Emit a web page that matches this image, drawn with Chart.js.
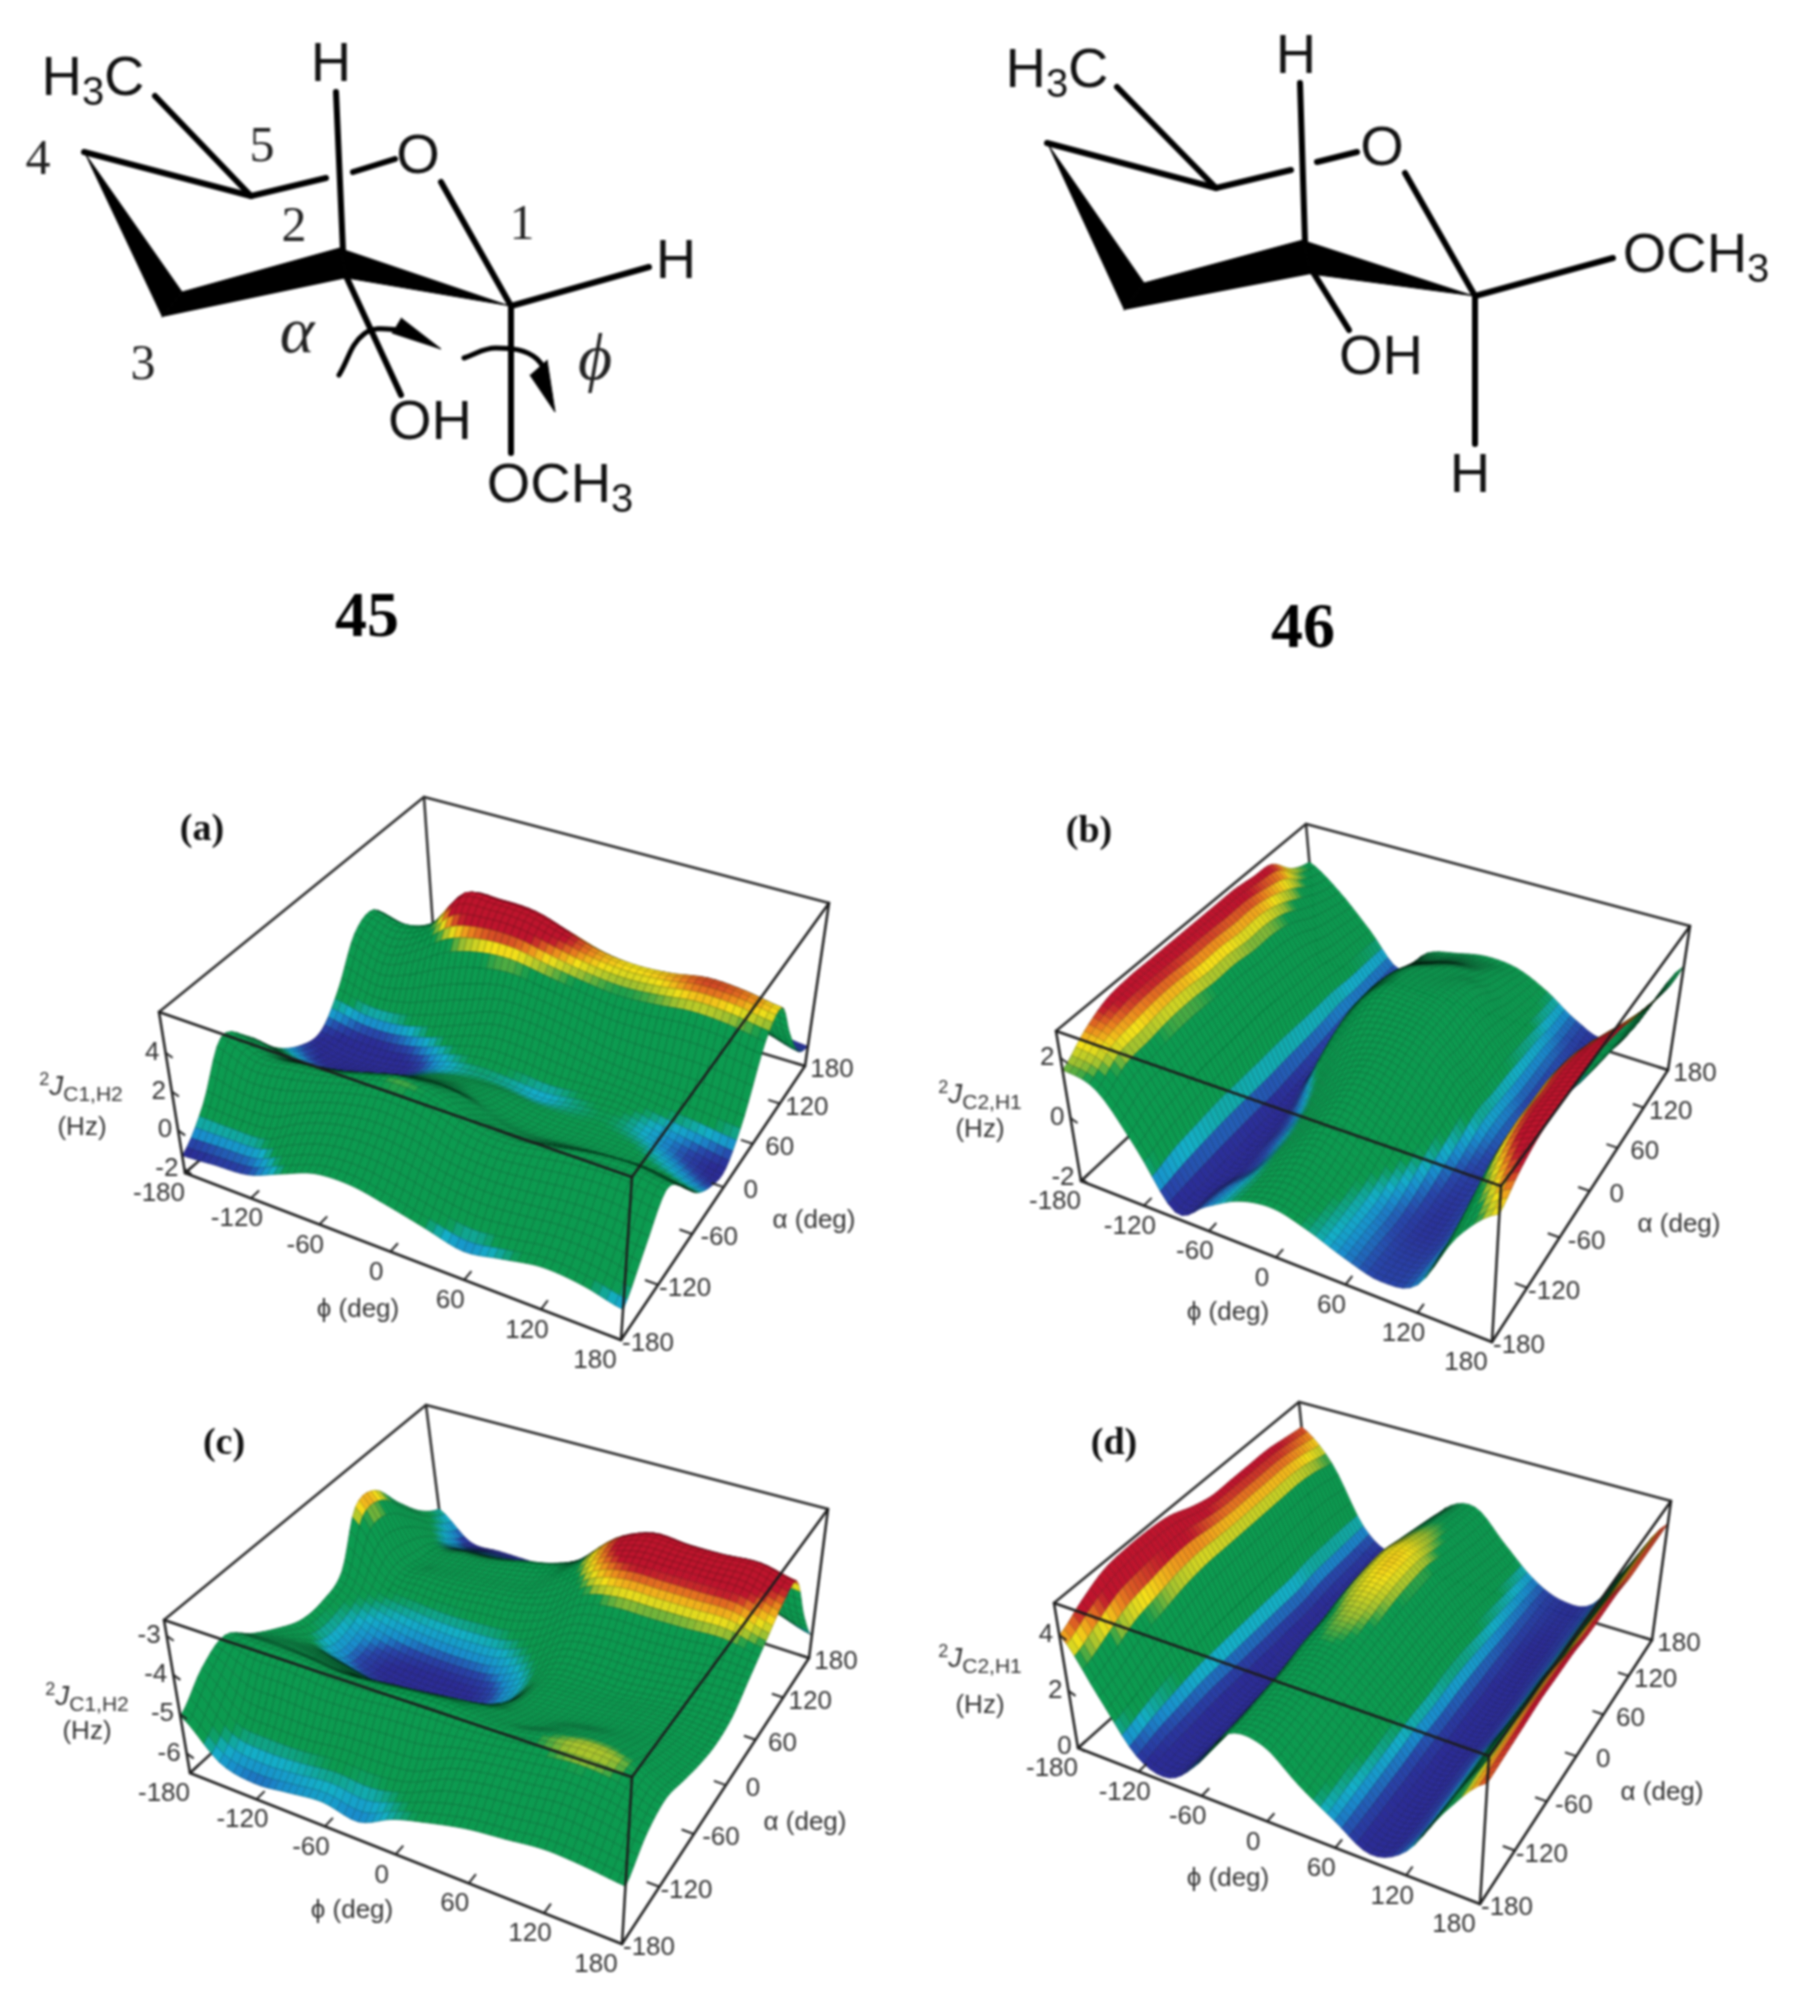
<!DOCTYPE html>
<html>
<head>
<meta charset="utf-8">
<title>2J coupling surfaces</title>
<script src="https://cdn.jsdelivr.net/npm/chart.js@4/dist/chart.umd.min.js"></script>
<style>
body { margin: 0; background: #fff; }
canvas { display: block; filter: blur(1.1px); }
</style>
</head>
<body>
<canvas id="c" width="1797" height="2000"></canvas>
<script>
/* axis ticks */
const phiTicks = [-180, -120, -60, 0, 60, 120, 180];
const alphaTicks = [-180, -120, -60, 0, 60, 120, 180];
const zTicksA = [-2, 0, 2, 4];
const zTicksB = [-2, 0, 2];
const zTicksC = [-6, -5, -4, -3];
const zTicksD = [0, 2, 4];

/* surface heights in Hz, one row per alpha (-180..180 step 30), one column per phi (-180..180 step 30) */
const surfA = [
  [-1.3,-1.15,-1.0,-0.3,0.4,0.5,0.15,-0.3,-0.75,-0.4,-0.05,-0.2,-0.65],
  [0.2,0.1,0.2,1.1,1.7,1.9,1.7,1.2,1.0,1.1,1.3,1.3,1.0],
  [2.6,1.9,2.1,2.4,2.9,3.3,3.1,2.4,2.2,2.5,2.8,2.9,2.6],
  [1.6,1.1,1.2,1.5,2.0,2.4,2.3,1.5,1.2,1.4,1.7,1.8,1.5],
  [0,-0.4,-0.2,0.2,0.7,1,0.9,0.4,0.2,0.3,0.3,0.2,-0.1],
  [-0.9,-1.3,-1.2,-0.9,-0.2,0.1,0.2,0,-0.1,-0.1,-0.2,-0.6,-1.0],
  [-1.1,-1.4,-1.4,-1.1,-0.5,-0.2,-0.3,-0.45,-0.2,-0.1,-0.5,-0.9,-1.25],
  [0.2,-0.2,-0.1,0.4,1,1.6,1.6,1.3,0.9,0.7,0.6,0.5,0.3],
  [2.2,1.6,2.3,3.4,3.9,3.95,3.6,3.3,3.1,3.2,3.4,3.3,3.0],
  [2.6,2.3,2.9,4.9,5.0,4.9,4.4,3.9,3.7,3.8,4.1,4.0,3.7],
  [1.0,0.4,1.0,2.6,3.3,3.3,2.6,1.9,1.5,1.8,2.0,1.8,1.4],
  [-0.2,-0.6,-0.2,0.6,1.1,1.0,0.7,0.4,0.1,0.2,0.3,0,-0.5],
  [-0.6,-0.9,-0.8,-0.4,-0.2,-0.3,-0.4,-0.6,-0.7,-0.7,-0.8,-1,-1.2]
];
const surfB = [
  [1.6,1.3,-0.2,-1.9,-1.3,-0.7,-0.5,-0.8,-1.25,-1.55,-1.2,0.8,2.0],
  [2.2,1.8,0.1,-1.9,-1.4,-0.7,-0.3,-0.7,-1.2,-1.6,-1.2,1.3,2.5],
  [2.6,1.9,0.2,-1.9,-1.6,-0.6,0,-0.5,-1.2,-1.7,-1.2,1.8,2.8],
  [2.7,2.0,0.3,-1.9,-1.5,-0.5,0.3,-0.1,-0.9,-1.7,-1.1,2.0,2.9],
  [2.7,2.0,0.3,-1.9,-1.4,-0.2,0.6,0.3,-0.5,-1.6,-1.1,2.0,2.9],
  [2.7,1.9,0.3,-1.9,-1.0,0.3,0.9,0.7,-0.2,-1.4,-1.2,2.0,2.9],
  [2.7,1.9,0.3,-1.8,-0.3,0.9,1.2,1,0.1,-1.2,-1.3,1.8,2.8],
  [2.7,1.8,0.2,-1.7,0.1,1.3,1.4,1.1,-0.1,-1.2,-1.4,1.4,2.6],
  [2.7,1.8,0.1,-1.6,0.2,1.2,1.3,1.1,0,-1.3,-1.5,0.8,2.3],
  [2.6,1.6,0,-1.5,0.1,1.0,1.0,0.9,-0.2,-1.3,-1.6,0,2.0],
  [2.5,1.2,-0.2,-1.5,-0.1,0.5,0.7,0.4,-0.4,-1.3,-1.6,-0.3,1.7],
  [1.8,0.9,-0.3,-1.5,-0.4,0,0.2,0.1,-0.6,-1.4,-1.7,-0.5,1.5],
  [1.5,0.7,-0.4,-1.5,-0.6,-0.3,-0.1,-0.2,-0.7,-1.4,-1.7,-0.5,1.5]
];
const surfC = [
  [-5.05,-5.9,-6.1,-6.0,-5.9,-6.05,-5.65,-5.4,-5.2,-5.1,-5.0,-5.05,-5.15],
  [-4.4,-5.2,-5.3,-5.3,-5.2,-5.2,-5.1,-4.7,-4.5,-4.4,-4.3,-4.4,-4.6],
  [-4.1,-4.2,-4.2,-4.3,-4.3,-4.2,-4.15,-4.2,-4.15,-4.0,-3.9,-4.0,-4.4],
  [-4.6,-4.6,-4.7,-4.8,-4.7,-4.6,-4.5,-4.5,-4.5,-4.3,-4.2,-4.3,-4.6],
  [-5.0,-5.2,-5.4,-5.6,-5.6,-5.5,-5.2,-4.9,-4.8,-4.7,-4.6,-4.6,-4.8],
  [-5.3,-5.9,-6.2,-6.3,-6.25,-6.15,-5.8,-5.1,-4.95,-4.9,-4.8,-4.8,-4.9],
  [-5.3,-5.9,-6.2,-6.3,-6.3,-6.2,-5.8,-5.1,-5,-5,-4.9,-4.8,-4.8],
  [-5.0,-5.5,-5.7,-5.8,-5.8,-5.7,-5.3,-4.7,-4.55,-4.55,-4.5,-4.4,-4.4],
  [-3.7,-5.1,-5.2,-5.2,-5.1,-5.0,-4.7,-4.0,-3.75,-3.75,-3.75,-3.75,-4.0],
  [-3.7,-5.2,-5.3,-5.2,-5.1,-4.9,-4.3,-3.6,-3.3,-3.3,-3.3,-3.3,-3.6],
  [-4.5,-5.4,-5.4,-5.3,-5.1,-4.9,-4.5,-3.7,-3.3,-3.35,-3.35,-3.3,-3.5],
  [-5.2,-5.9,-5.9,-5.9,-5.9,-5.8,-5.3,-4.9,-4.5,-4.6,-4.7,-4.8,-4.9],
  [-5.6,-6.3,-6.3,-6.3,-6.3,-6.2,-5.9,-5.4,-5.2,-5.2,-5.3,-5.6,-5.9]
];
const surfD = [
  [4.0,2.2,0.5,0.15,1.1,2.6,2.65,1.7,0.9,0.2,0.8,2.7,4.2],
  [4.5,2.5,0.7,0.1,1.1,2.6,2.75,1.9,1,0.15,0.7,2.7,4.3],
  [4.9,2.9,0.8,0.1,1.1,2.7,2.9,2.1,1.1,0.15,0.7,2.6,4.4],
  [5.0,3.1,0.9,0.1,1.2,2.8,3.05,2.3,1.2,0.15,0.7,2.6,4.5],
  [5.0,3.3,0.9,0.1,1.3,3,3.2,2.4,1.3,0.2,0.7,2.6,4.5],
  [4.9,3.4,0.9,0.1,1.4,3.1,3.4,2.5,1.3,0.2,0.6,2.6,4.5],
  [4.6,3.4,0.9,0.1,1.5,3.3,3.6,2.6,1.4,0.2,0.6,2.5,4.4],
  [4.4,3.4,0.9,0.1,1.5,3.4,3.7,2.6,1.4,0.2,0.6,2.5,4.4],
  [4.4,3.4,0.9,0.1,1.5,3.4,3.65,2.6,1.3,0.3,0.6,2.4,4.4],
  [4.4,3.4,1,0.15,1.4,3.2,3.4,2.4,1.2,0.3,0.6,2.4,4.3],
  [4.4,3.4,1,0.2,1.3,3,3.2,2.2,1.1,0.35,0.6,2.4,4.3],
  [4.3,3.3,1,0.2,1.2,2.8,3.05,2,1,0.4,0.6,2.4,4.3],
  [4.2,3.1,1,0.3,1.1,2.6,2.95,1.9,0.9,0.4,0.6,2.4,4.3]
];

/* colour steps shared by the four surfaces */
const palette = [[43,44,150],[40,70,170],[25,140,205],[20,175,200],[12,155,80],[12,155,80],[150,190,50],[245,225,25],[235,130,30],[190,20,45]];

/* box corners [left, front, right, back] on the page; z range of the box */
const panels = [
  { tag: '(a)', tagAt: [202,830], surf: surfA, zTicks: zTicksA, zLo: -2.2, zHi: 6.1,
    bottom: [[185,1173],[621,1340],[805,1066],[435,955]], top: [[159,1012],[632,1177],[829,903],[424,797]],
    levels: [-1.2,-0.95,-0.7,-0.45,-0.15,3.2,3.45,3.75,4.0,4.3], sub: 'C1,H2',
    jAt: [81,1086], hzAt: [82,1128], phiAt: [358,1310], alphaAt: [814,1221] },
  { tag: '(b)', tagAt: [1089,832], surf: surfB, zTicks: zTicksB, zLo: -2.1, zHi: 2.9,
    bottom: [[1081,1181],[1492,1342],[1668,1070],[1318,960]], top: [[1056,1031],[1501,1186],[1690,926],[1306,824]],
    levels: [-1.8,-1.5,-1.2,-1,-0.7,1.5,1.7,2.0,2.25,2.5], sub: 'C2,H1',
    jAt: [980,1094], hzAt: [980,1130], phiAt: [1228,1313], alphaAt: [1679,1225] },
  { tag: '(c)', tagAt: [224,1444], surf: surfC, zTicks: zTicksC, zLo: -6.5, zHi: -2.6,
    bottom: [[190,1773],[622,1944],[809,1658],[443,1540]], top: [[164,1620],[632,1777],[828,1509],[426,1405]],
    levels: [-6.3,-6.15,-6.0,-5.75,-5.45,-4.05,-3.95,-3.78,-3.6,-3.45], sub: 'C1,H2',
    jAt: [87,1696], hzAt: [87,1732], phiAt: [352,1911], alphaAt: [805,1823] },
  { tag: '(d)', tagAt: [1114,1444], surf: surfD, zTicks: zTicksD, zLo: -0.05, zHi: 5.15,
    bottom: [[1078,1748],[1480,1904],[1652,1640],[1313,1538]], top: [[1054,1603],[1489,1756],[1671,1501],[1299,1402]],
    levels: [0.3,0.6,0.9,1.1,1.4,3.2,3.4,3.7,4,4.3], sub: 'C2,H1',
    jAt: [980,1658], hzAt: [980,1706], phiAt: [1228,1879], alphaAt: [1662,1793] }
];

/* structures 45 and 46 */
const bonds45 = [
  [[84,152],[251,196]], [[251,196],[155,96]], [[251,196],[326,178]], [[353,172],[395,159]],
  [[336,92],[343,251]], [[441,182],[511,306]], [[511,306],[649,267]], [[511,306],[511,453]], [[346,276],[401,395]]
];
const wedges45 = [
  [[84,152],[182,292],[162,317]],
  [[162,317],[182,292],[340,248],[347,278]],
  [[340,248],[347,278],[511,306]]
];
const arrows45 = [
  [[339,375],[364,334],[398,330],[425,340]],
  [[464,358],[496,348],[537,359],[550,395]]
];
const arrowHeads45 = [
  [[401,318],[441,349],[392,333]],
  [[547,360],[555,412],[530,375]]
];
const bonds46 = [
  [[1047,143],[1216,188]], [[1216,188],[1117,87]], [[1216,188],[1291,170]], [[1317,162],[1357,152]],
  [[1300,83],[1305,242]], [[1405,173],[1475,296]], [[1475,296],[1613,258]], [[1475,296],[1475,444]], [[1311,269],[1349,330]]
];
const wedges46 = [
  [[1047,143],[1144,283],[1124,310]],
  [[1124,310],[1144,283],[1303,240],[1311,274]],
  [[1303,240],[1311,274],[1475,296]]
];
/* text, x, y */
const atomLabels = [
  ['H', 331, 66], ['O', 418, 158], ['H', 676, 263], ['OH', 430, 424],
  ['H', 1296, 58], ['O', 1382, 150], ['OH', 1381, 359], ['H', 1470, 477]
];
const subLabels = [
  [[['H','n'],['3','s'],['C','n']], 93, 75], [[['OCH','n'],['3','s']], 560, 482],
  [[['H','n'],['3','s'],['C','n']], 1057, 67], [[['OCH','n'],['3','s']], 1696, 252]
];
const atomNumbers = [['4',38,161], ['5',262,148], ['2',294,228], ['1',522,226], ['3',143,366]];
const compoundNames = [['45',367,619], ['46',1303,630]];

function squareToQuad(q) {
  const [[x0,y0],[x1,y1],[x2,y2],[x3,y3]] = q;
  const dx1 = x1-x2, dx2 = x3-x2, sx = x0-x1+x2-x3;
  const dy1 = y1-y2, dy2 = y3-y2, sy = y0-y1+y2-y3;
  const den = dx1*dy2 - dx2*dy1;
  const g = (sx*dy2 - dx2*sy)/den, h = (dx1*sy - sx*dy1)/den;
  const a = x1-x0+g*x1, b = x3-x0+h*x3, d = y1-y0+g*y1, e = y3-y0+h*y3;
  return (u, v) => { const w = g*u + h*v + 1; return [(a*u + b*v + x0)/w, (d*u + e*v + y0)/w]; };
}

panels.forEach(p => {
  const lo = squareToQuad(p.bottom), hi = squareToQuad(p.top);
  p.project = (phi, alpha, z) => {
    const u = (phi+180)/360, v = (alpha+180)/360, w = (z-p.zLo)/(p.zHi-p.zLo);
    const a = lo(u,v), b = hi(u,v);
    return { x: a[0]+(b[0]-a[0])*w, y: a[1]+(b[1]-a[1])*w };
  };
});

function catmull(a, b, c, d, t) {
  return 0.5*(2*b + (c-a)*t + (2*a-5*b+4*c-d)*t*t + (3*b-a-3*c+d)*t*t*t);
}
/* smooth height between the read values, the same idea as a line's tension */
function heightAt(s, fx, fy) {
  const cl = (n) => Math.max(0, Math.min(12, n));
  const ix = Math.min(11, Math.floor(fx)), iy = Math.min(11, Math.floor(fy));
  const row = [];
  for (let r = -1; r <= 2; r++) {
    const R = s[cl(iy+r)];
    row.push(catmull(R[cl(ix-1)], R[cl(ix)], R[cl(ix+1)], R[cl(ix+2)], fx-ix));
  }
  return catmull(row[0], row[1], row[2], row[3], fy-iy);
}

function colourFor(levels, z) {
  if (z <= levels[0]) return palette[0];
  for (let i = 1; i < levels.length; i++) {
    if (z <= levels[i]) {
      const t = (z-levels[i-1])/(levels[i]-levels[i-1]);
      return palette[i-1].map((c, k) => c + (palette[i][k]-c)*t);
    }
  }
  return palette[palette.length-1];
}

function drawSurface(chart, p) {
  const ctx = chart.ctx, X = chart.scales.x, Y = chart.scales.y, N = 60;
  const pts = [];
  for (let j = 0; j <= N; j++) {
    const line = [];
    for (let i = 0; i <= N; i++) {
      const z = heightAt(p.surf, i*12/N, j*12/N);
      const q = p.project(-180+i*360/N, -180+j*360/N, z);
      line.push({ x: X.getPixelForValue(q.x), y: Y.getPixelForValue(q.y), z: z });
    }
    pts.push(line);
  }
  const shoelace = (a,b,c,d) => 0.5*((c.x-a.x)*(d.y-b.y) - (d.x-b.x)*(c.y-a.y));
  const flat = shoelace(...p.bottom.map(c => ({x:c[0], y:c[1]})))/(N*N);
  ctx.save();
  ctx.lineWidth = 0.7;
  ctx.lineJoin = 'round';
  for (let j = N-1; j >= 0; j--) {
    for (let i = 0; i < N; i++) {
      const a = pts[j][i], b = pts[j][i+1], c = pts[j+1][i+1], d = pts[j+1][i];
      const r = Math.abs(shoelace(a,b,c,d)/flat);
      const lit = r < 0.25 ? 0.1 + 2.6*r : Math.min(1, 0.75 + (r-0.25));
      const col = colourFor(p.levels, (a.z+b.z+c.z+d.z)/4);
      ctx.fillStyle = `rgb(${col.map(k => Math.round(k*lit)).join(',')})`;
      ctx.strokeStyle = `rgb(${col.map(k => Math.round(k*lit*0.72)).join(',')})`;
      ctx.beginPath();
      ctx.moveTo(a.x,a.y); ctx.lineTo(b.x,b.y); ctx.lineTo(c.x,c.y); ctx.lineTo(d.x,d.y);
      ctx.closePath();
      ctx.fill();
      ctx.stroke();
    }
  }
  ctx.restore();
}

function drawRuns(ctx, runs, x, y, align) {
  /* runs carry their own font and an optional baseline shift */
  let total = 0;
  runs.forEach(r => { ctx.font = r.font; r.w = ctx.measureText(r.text).width; total += r.w; });
  let cx = align === 'center' ? x-total/2 : x;
  ctx.textAlign = 'left';
  ctx.textBaseline = 'alphabetic';
  runs.forEach(r => { ctx.font = r.font; ctx.fillText(r.text, cx, y+(r.dy||0)); cx += r.w; });
}

const SANS = '"Liberation Sans"', SERIF = '"Liberation Serif"';

const textPlugin = {
  id: 'pageText',
  afterDraw(chart) {
    const ctx = chart.ctx, X = chart.scales.x, Y = chart.scales.y;
    const px = q => [X.getPixelForValue(q.x), Y.getPixelForValue(q.y)];
    ctx.save();
    panels.forEach(p => {
      ctx.strokeStyle = '#222'; ctx.lineWidth = 2;
      ctx.fillStyle = '#333';
      ctx.textAlign = 'center'; ctx.textBaseline = 'middle';
      ctx.font = `26px ${SANS}`;
      phiTicks.forEach(t => {
        const [x,y] = px(p.project(t,-180,p.zLo)), [x2,y2] = px(p.project(t,-170,p.zLo));
        ctx.beginPath(); ctx.moveTo(x,y); ctx.lineTo(x2,y2); ctx.stroke();
        const nudge = Math.abs(t) === 180 ? -12 : 0;
        ctx.fillText(String(t), x-14+nudge, y+21);
      });
      alphaTicks.forEach(t => {
        const [x,y] = px(p.project(180,t,p.zLo)), [x2,y2] = px(p.project(170,t,p.zLo));
        ctx.beginPath(); ctx.moveTo(x,y); ctx.lineTo(x2,y2); ctx.stroke();
        ctx.fillText(String(t), x+27, y+4);
      });
      ctx.textAlign = 'right';
      p.zTicks.forEach(t => {
        const [x,y] = px(p.project(-180,-180,t));
        ctx.beginPath(); ctx.moveTo(x,y); ctx.lineTo(x+7,y+5); ctx.stroke();
        ctx.fillText(String(t), x-6, y);
      });
      ctx.textAlign = 'center';
      ctx.fillText('(Hz)', p.hzAt[0], p.hzAt[1]);
      ctx.fillText('\u03d5 (deg)', p.phiAt[0], p.phiAt[1]);
      ctx.fillText('\u03b1 (deg)', p.alphaAt[0], p.alphaAt[1]);
      drawRuns(ctx, [
        { text: '2', font: `18px ${SANS}`, dy: -10 },
        { text: 'J', font: `italic 28px ${SANS}` },
        { text: p.sub, font: `21px ${SANS}`, dy: 6 }
      ], p.jAt[0], p.jAt[1]+9, 'center');
      ctx.fillStyle = '#111';
      ctx.textAlign = 'center'; ctx.textBaseline = 'middle';
      ctx.font = `bold 38px ${SERIF}`;
      ctx.fillText(p.tag, p.tagAt[0], p.tagAt[1]);
    });
    ctx.fillStyle = '#111';
    ctx.textAlign = 'center'; ctx.textBaseline = 'middle';
    ctx.font = `56px ${SANS}`;
    atomLabels.forEach(a => ctx.fillText(a[0], a[1], a[2]));
    subLabels.forEach(s => {
      drawRuns(ctx, s[0].map(r => r[1] === 's'
        ? { text: r[0], font: `40px ${SANS}`, dy: 10 }
        : { text: r[0], font: `56px ${SANS}` }), s[1], s[2]+20, 'center');
    });
    ctx.textAlign = 'center'; ctx.textBaseline = 'middle';
    ctx.fillStyle = '#222';
    ctx.font = `50px ${SERIF}`;
    atomNumbers.forEach(a => ctx.fillText(a[0], a[1], a[2]));
    ctx.font = `italic 66px ${SERIF}`;
    ctx.fillText('\u03b1', 297, 335);
    ctx.fillText('\u03d5', 595, 362);
    ctx.fillStyle = '#000';
    ctx.font = `bold 64px ${SERIF}`;
    compoundNames.forEach(a => ctx.fillText(a[0], a[1], a[2]));
    ctx.restore();
  }
};

const surfacePlugin = {
  id: 'surface',
  afterDatasetDraw(chart, args) {
    const ds = chart.data.datasets[args.index];
    if (ds.panel) drawSurface(chart, ds.panel);
  }
};

function toPoints(list) { return list.map(c => ({ x: c[0], y: c[1] })); }
function lineSet(list, width, extra) {
  return Object.assign({ data: toPoints(list), showLine: true, pointRadius: 0, borderColor: '#000',
    borderWidth: width, borderCapStyle: 'round', order: 1 }, extra || {});
}

const datasets = [];
bonds45.concat(bonds46).forEach(b => datasets.push(lineSet(b, 6)));
wedges45.concat(wedges46, arrowHeads45).forEach(w => datasets.push(lineSet(w, 1, { fill: 'shape', backgroundColor: '#000' })));
arrows45.forEach(a => datasets.push(lineSet(a, 5, { tension: 0.4 })));

panels.forEach(p => {
  const [bl,bf,br,bb] = p.bottom, [tl,tf,tr,tb] = p.top;
  [[tl,tb],[tb,tr],[tb,bb],[bl,bb],[bb,br]].forEach(e => datasets.push(lineSet(e, 2.5, { borderColor: '#2a2a2a', order: 3 })));
  const grid = [];
  p.surf.forEach((row, j) => row.forEach((z, i) => grid.push(p.project(-180+i*30, -180+j*30, z))));
  datasets.push({ data: grid, pointRadius: 0, showLine: false, order: 2, panel: p });
  [[tl,tf],[tf,tr],[tl,bl],[tf,bf],[tr,br],[bl,bf],[bf,br]].forEach(e => datasets.push(lineSet(e, 2.5, { borderColor: '#1c1c1c', order: 1 })));
});

new Chart(document.getElementById('c').getContext('2d'), {
  type: 'scatter',
  data: { datasets },
  options: {
    responsive: false,
    animation: false,
    devicePixelRatio: 1,
    layout: { padding: 0 },
    plugins: { legend: { display: false }, tooltip: { enabled: false }, title: { display: false } },
    scales: {
      x: { type: 'linear', min: 0, max: 1797, display: false },
      y: { type: 'linear', min: 0, max: 2000, reverse: true, display: false }
    }
  },
  plugins: [surfacePlugin, textPlugin]
});
</script>
</body>
</html>
